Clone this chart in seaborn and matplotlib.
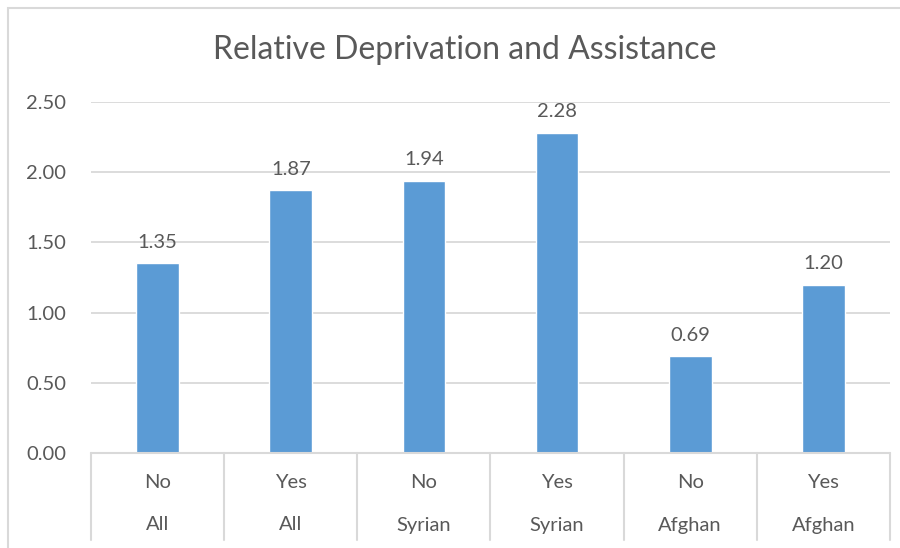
import matplotlib.pyplot as plt
import matplotlib.transforms as mtransforms
from matplotlib.patches import Rectangle
import seaborn as sns
import pandas as pd

# chart data
groups = ['All', 'All', 'Syrian', 'Syrian', 'Afghan', 'Afghan']
assistance = ['No', 'Yes', 'No', 'Yes', 'No', 'Yes']
values = [1.35, 1.87, 1.94, 2.28, 0.69, 1.20]
yticks = [0.0, 0.5, 1.0, 1.5, 2.0, 2.5]

sns.set_theme(style="white")
plt.rcParams['font.family'] = ['Lato', 'DejaVu Sans']

txt = '#595959'
grid = '#D9D9D9'
bar = '#5B9BD5'
fs = 14.5

df = pd.DataFrame({'cat': [a + '_' + g for a, g in zip(assistance, groups)],
                   'value': values})

fig = plt.figure(figsize=(9, 5.48), dpi=100)
ax = fig.add_axes([91/900, 1 - 453/548, (890 - 91)/900, (453 - 102)/548])

# outer chart border
fig.patches.append(Rectangle((8/900, -0.1), 1.2, 1 - 8/548 + 0.1,
                             transform=fig.transFigure, fill=False,
                             edgecolor=grid, lw=1.5, zorder=0))

sns.barplot(data=df, x='cat', y='value', color=bar, width=0.32,
            saturation=1, ax=ax, zorder=3)

ax.set_ylim(0, 2.5)
ax.set_xlim(-0.5, len(values) - 0.5)
ax.set_yticks(yticks)
ax.set_yticklabels([f'{v:.2f}' for v in yticks], color=txt, fontsize=fs)
ax.tick_params(axis='y', length=0, pad=18)
ax.set_xticks([])
ax.set_xlabel('')
ax.set_ylabel('')
ax.grid(axis='y', color=grid, lw=1.3, zorder=0)
for s in ax.spines.values():
    s.set_visible(False)

# value labels
for i, v in enumerate(values):
    ax.annotate(f'{v:.2f}', (i, v), xytext=(0, 9), textcoords='offset points',
                ha='center', va='bottom', color=txt, fontsize=fs)

# two-level category axis
tr = mtransforms.blended_transform_factory(ax.transData, ax.transAxes)
bottom = -(540 - 453) / 351
ax.plot([-0.5, len(values) - 0.5], [0, 0], transform=tr, color=grid,
        lw=1.5, clip_on=False, zorder=4)
for k in range(len(values) + 1):
    ax.plot([k - 0.5, k - 0.5], [0, bottom], transform=tr, color=grid,
            lw=1.5, clip_on=False)
for i, (a, g) in enumerate(zip(assistance, groups)):
    ax.text(i, -(483 - 453) / 351, a, transform=tr, ha='center', va='center',
            color=txt, fontsize=fs)
    ax.text(i, -(525 - 453) / 351, g, transform=tr, ha='center', va='center',
            color=txt, fontsize=fs)

fig.text(465/900, 1 - 50/548, 'Relative Deprivation and Assistance',
         ha='center', va='center', color=txt, fontsize=23)

fig.savefig('out.png', dpi=100)
